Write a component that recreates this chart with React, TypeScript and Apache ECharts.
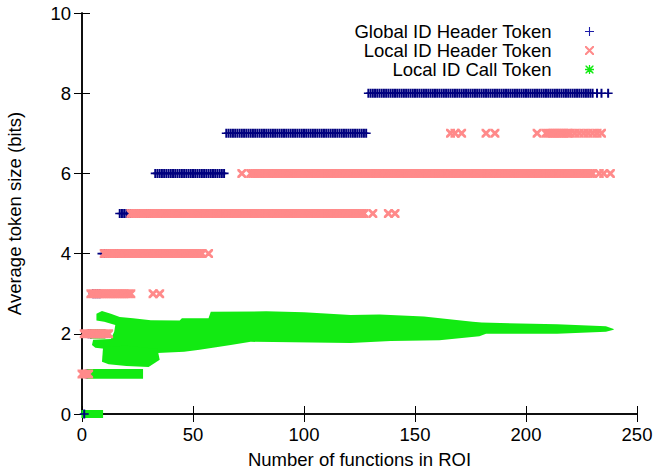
import React, { useEffect, useRef } from "react";
import * as echarts from "echarts";

const FONT = "'Liberation Sans', Arial, Helvetica, sans-serif";
const BLUE = "#00007f";
const PINK = "#ff8a8a";
const GREEN = "#12ea12";

const X_MIN = 0;
const X_MAX = 250;
const X_STEP = 50;
const Y_MIN = 0;
const Y_MAX = 10;
const Y_STEP = 2;

const SERIES_NAMES = ["Global ID Header Token", "Local ID Header Token", "Local ID Call Token"];
const X_TITLE = "Number of functions in ROI";
const Y_TITLE = "Average token size (bits)";

// runs: [bits, firstX, lastX] — one point at every integer number of functions in the run
const globalRuns = [
  [0, 1, 1], [1, 2, 2], [2, 3, 4], [3, 5, 8], [4, 9, 16],
  [5, 17, 32], [6, 33, 64], [7, 65, 128], [8, 129, 230],
];
const globalSingles = [[232, 8], [234, 8], [237, 8]];

const localRuns = [
  [1, 0, 3], [2, 1, 12], [3, 4, 22], [4, 10, 54],
  [5, 22, 127], [6, 76, 230], [7, 209, 219],
];
const localSingles = [
  [32, 3], [35, 3], [57, 4], [131, 5], [138, 5], [141, 5],
  [72, 6], [233, 6], [235, 6], [238, 6],
  [166, 7], [168, 7], [171, 7], [182, 7], [186, 7], [205, 7],
  [220, 7], [222, 7], [224, 7], [226, 7], [228, 7], [230, 7], [232, 7], [234, 7],
];

// Local ID Call Token cloud outlines, [x, bits]
const callMainUpper = [
  [6.5, 2.5], [9, 2.57], [13, 2.5], [17, 2.42], [23, 2.39], [31, 2.34], [44, 2.33],
  [45, 2.39], [57, 2.39], [58, 2.55], [83, 2.56], [100, 2.54], [121, 2.47],
  [134, 2.48], [154, 2.43], [176, 2.3], [180, 2.28], [214, 2.24], [236, 2.19], [239.5, 2.12],
];
const callMainLower = [
  [239.5, 2.1], [236, 2.05], [214, 2.0], [182, 2.0], [179, 1.94], [161, 1.84], [139, 1.82],
  [121, 1.77], [76, 1.8], [67, 1.72], [53, 1.6], [46, 1.55], [34, 1.52], [28, 1.58],
  [14, 1.6], [6, 1.65], [4.5, 1.72], [5, 1.85], [13, 1.87], [14.5, 2.05], [15, 2.22], [10, 2.3], [6.5, 2.33],
];
const callLevel2 = [[3.6, 1.88], [10.5, 1.88], [10.5, 2.12], [3.6, 2.12]];
const callLowBand = [
  [9, 1.3], [9.5, 1.68], [20, 1.7], [34, 1.62], [35, 1.35], [30, 1.17], [20, 1.2], [12, 1.24],
];
const callLevel1 = [[2.2, 0.88], [27.5, 0.88], [27.5, 1.12], [2.2, 1.12]];
const callLevel0 = [[-0.3, -0.1], [9.5, -0.1], [9.5, 0.1], [-0.3, 0.1]];

// marks drawn in the plot
const PLUS_MARK = "path://M3.9,0H6.1V10H3.9Z M0,4.1H10V5.9H0Z";
const CROSS_MARK = "path://M0,0L2.2,0L10,7.8L10,10L7.8,10L0,2.2Z M10,0L10,2.2L2.2,10L0,10L0,7.8L7.8,0Z";
// thinner key symbols
const PLUS_KEY = "path://M4.4,0H5.6V10H4.4Z M0,4.4H10V5.6H0Z";
const CROSS_KEY = "path://M0,0L1.6,0L10,8.4L10,10L8.4,10L0,1.6Z M10,0L10,1.6L1.6,10L0,10L0,8.4L8.4,0Z";
const STAR_KEY =
  "path://M4.3,0H5.7V10H4.3Z M0,4.3H10V5.7H0Z M0.5,0.5L1.7,0.5L9.5,8.3L9.5,9.5L8.3,9.5L0.5,1.7Z M9.5,0.5L9.5,1.7L1.7,9.5L0.5,9.5L0.5,8.3L8.3,0.5Z";

function expand(runs: number[][], singles: number[][]) {
  const pts: number[][] = [];
  for (const [lvl, a, b] of runs) for (let x = a; x <= b; x++) pts.push([x, lvl]);
  return pts.concat(singles);
}

export default function App() {
  const ref = useRef<HTMLDivElement>(null);
  useEffect(() => {
    if (!ref.current) return;
    const chart = echarts.init(ref.current, undefined, { renderer: "svg" });
    const callShapes = [
      callMainUpper.concat(callMainLower),
      callLevel2,
      callLowBand,
      callLevel1,
      callLevel0,
    ];
    const icons = [PLUS_KEY, CROSS_KEY, STAR_KEY];
    const keyColors = ["#1c1ca8", PINK, GREEN];
    const axisLine = { show: true, lineStyle: { color: "#000", width: 1.5 } };
    const tick = { show: true, inside: true, length: 8, lineStyle: { color: "#000", width: 1 } };
    const FS = 18.5;
    const labelStyle = { fontSize: FS, color: "#000", fontFamily: FONT };
    chart.setOption({
      animation: false,
      grid: { left: 82, right: 18, top: 13, bottom: 59, containLabel: false, outerBoundsMode: "none" },
      legend: SERIES_NAMES.map((name, i) => ({
        data: [{ name, icon: icons[i], itemStyle: { color: keyColors[i] } }],
        orient: "vertical",
        align: "right",
        right: 61,
        top: 22 + i * 19,
        padding: 0,
        itemWidth: 66,
        itemHeight: 9,
        symbolKeepAspect: true,
        selectedMode: false,
        textStyle: { fontSize: FS, color: "#000", fontFamily: FONT },
      })),
      xAxis: [
        {
          type: "value", position: "bottom", min: X_MIN, max: X_MAX, interval: X_STEP,
          axisLine, axisTick: tick, splitLine: { show: false },
          axisLabel: { ...labelStyle, margin: 11 },
          name: X_TITLE, nameLocation: "middle", nameGap: 36,
          nameTextStyle: { fontSize: FS, color: "#000", fontFamily: FONT },
        },
        {
          type: "value", position: "top", min: X_MIN, max: X_MAX, interval: X_STEP,
          axisLine, axisTick: tick, splitLine: { show: false }, axisLabel: { show: false },
        },
      ],
      yAxis: [
        {
          type: "value", position: "left", min: Y_MIN, max: Y_MAX, interval: Y_STEP,
          axisLine, axisTick: tick, splitLine: { show: false },
          axisLabel: { ...labelStyle, margin: 11 },
          name: Y_TITLE, nameLocation: "middle", nameGap: 58,
          nameTextStyle: { fontSize: FS, color: "#000", fontFamily: FONT },
        },
        {
          type: "value", position: "right", min: Y_MIN, max: Y_MAX, interval: Y_STEP,
          axisLine, axisTick: tick, splitLine: { show: false }, axisLabel: { show: false },
        },
      ],
      series: [
        {
          type: "scatter", name: SERIES_NAMES[0], data: expand(globalRuns, globalSingles),
          symbol: PLUS_MARK, symbolSize: 9, itemStyle: { color: BLUE, opacity: 1 },
          silent: true, clip: false,
        },
        {
          type: "scatter", name: SERIES_NAMES[1], data: expand(localRuns, localSingles),
          symbol: CROSS_MARK, symbolSize: 9, itemStyle: { color: PINK, opacity: 1 },
          silent: true, clip: false,
        },
        {
          type: "custom", name: SERIES_NAMES[2], coordinateSystem: "cartesian2d",
          clip: false, silent: true, itemStyle: { color: GREEN },
          data: callShapes.map((_, i) => [i, 0]),
          renderItem: (params: any, api: any) => {
            const shape = callShapes[params.dataIndex];
            return {
              type: "polygon",
              shape: { points: shape.map((p) => api.coord(p)) },
              style: { fill: GREEN },
            };
          },
        },
      ],
    });
    return () => chart.dispose();
  }, []);
  return <div ref={ref} style={{ width: 655, height: 473, position: "absolute", left: 0, top: 0 }} />;
}
